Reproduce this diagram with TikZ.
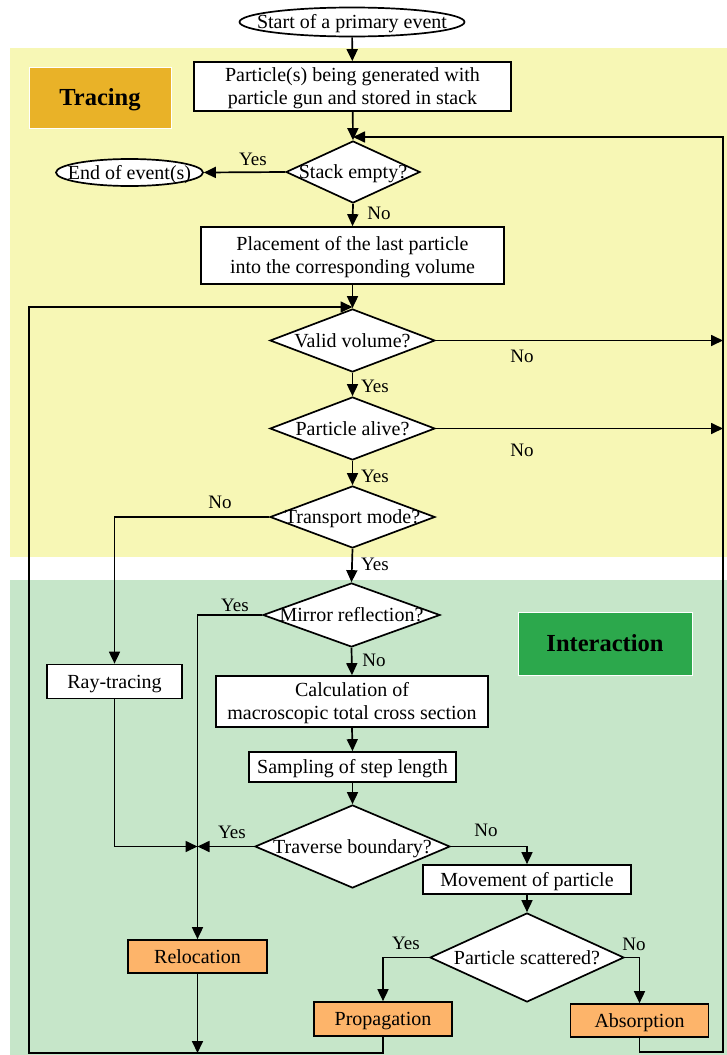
\documentclass[tikz,border=0pt]{standalone}
\usepackage{fontspec}
\setmainfont{Liberation Serif}
\usetikzlibrary{arrows.meta,shapes.geometric}
\definecolor{ybg}{RGB}{247,247,181}
\definecolor{gbg}{RGB}{198,230,201}
\definecolor{trc}{RGB}{233,178,40}
\definecolor{itr}{RGB}{44,168,76}
\definecolor{orng}{RGB}{253,180,106}
\newcommand\zt[1]{\makebox[0pt]{#1}}
\newcommand\tl[1]{\begin{tabular}[b]{@{}c@{}}#1\end{tabular}}
\begin{document}
\begin{tikzpicture}[x=1pt,y=-1pt,
  every node/.style={font=\fontsize{20}{23}\selectfont},
  line/.style={line width=1.7pt,line join=miter},
  arr/.style={line,-{Triangle[length=12pt,width=11pt]}},
  one/.style={text height=16pt,text depth=3pt},
  two/.style={text height=39pt,text depth=3pt},
  proc/.style={rectangle,draw,line width=1.7pt,fill=white,inner sep=0pt,one},
  proc2/.style={proc,two},
  obox/.style={proc,fill=orng},
  dec/.style={diamond,draw,line width=1.7pt,fill=white,inner sep=0pt,one},
  term/.style={ellipse,draw,line width=1.7pt,fill=white,inner sep=0pt,one},
  lbl/.style={inner sep=0pt,font=\fontsize{19}{22}\selectfont},
  tag/.style={rectangle,draw=white,line width=1pt,inner sep=0pt,text height=18pt,text depth=3pt,font=\fontsize{24.5}{28}\selectfont\bfseries}]
\useasboundingbox (0,0) rectangle (727,1055);
\fill[ybg] (10,48) rectangle (727,557);
\fill[gbg] (10,580) rectangle (727,1055);
\node[tag,fill=trc,minimum width=142pt,minimum height=61pt] (tracing) at (100,97.5) {Tracing};
\node[tag,fill=itr,minimum width=174pt,minimum height=63pt] (interaction) at (605,643.5) {Interaction};

\node[term,minimum width=225pt,minimum height=29pt] (start) at (352,22) {\zt{Start of a primary event}};
\node[proc2,minimum width=317pt,minimum height=49pt] (gen) at (352.5,86.5) {\tl{Particle(s) being generated with\\particle gun and stored in stack}};
\node[dec,minimum width=134pt,minimum height=62pt] (stack) at (353,172) {\zt{Stack empty?}};
\node[term,minimum width=147pt,minimum height=27pt] (end) at (129.5,172.5) {\zt{End of event(s)}};
\node[proc2,minimum width=303pt,minimum height=57pt] (place) at (352.5,255.5) {\tl{Placement of the last particle\\into the corresponding volume}};
\node[dec,minimum width=165pt,minimum height=63pt] (valid) at (352.5,340.5) {\zt{Valid volume?}};
\node[dec,minimum width=165pt,minimum height=63pt] (alive) at (352.5,428.5) {\zt{Particle alive?}};
\node[dec,minimum width=165pt,minimum height=62pt] (trans) at (352.5,517) {\zt{Transport mode?}};
\node[dec,minimum width=177pt,minimum height=64pt] (mirror) at (351.5,615) {\zt{Mirror reflection?}};
\node[proc,minimum width=135pt,minimum height=34pt] (ray) at (114.5,681.5) {Ray-tracing};
\node[proc2,minimum width=272pt,minimum height=51pt] (calc) at (352,701.5) {\tl{Calculation of\\macroscopic total cross section}};
\node[proc,minimum width=207pt,minimum height=30pt] (samp) at (352.5,767) {Sampling of step length};
\node[dec,minimum width=195pt,minimum height=83pt] (trav) at (352.5,846.5) {\zt{Traverse boundary?}};
\node[proc,minimum width=208pt,minimum height=29pt] (move) at (527,879.5) {Movement of particle};
\node[dec,minimum width=194pt,minimum height=89pt] (scat) at (527,957.5) {\zt{Particle scattered?}};
\node[obox,minimum width=139pt,minimum height=33pt] (reloc) at (197.5,956.5) {Relocation};
\node[obox,minimum width=138pt,minimum height=34pt] (prop) at (383,1019) {Propagation};
\node[obox,minimum width=138pt,minimum height=33pt] (abs) at (639.5,1020.5) {Absorption};

\coordinate (rtop) at (723,137);
\coordinate (rbot) at (723,1052);
\coordinate (lbot) at (29,1053);
\coordinate (ltop) at (29,307);

\draw[arr] (start) -- (gen);
\draw[arr] (gen) -- (stack.north);
\draw[arr] (stack.west) -- (end.east);
\draw[arr] (stack.south) -- (place.north);
\draw[arr] (place.south) -- (valid.north);
\draw[arr] (valid.east) -- (valid.east -| rtop);
\draw[arr] (valid.south) -- (alive.north);
\draw[arr] (alive.east) -- (alive.east -| rtop);
\draw[arr] (alive.south) -- (trans.north);
\draw[arr] (trans.west) -| (ray.north);
\draw[arr] (trans.south) -- (mirror.north);
\draw[arr] (mirror.west) -| (reloc.north);
\draw[arr] (mirror.south) -- (calc.north);
\draw[arr] (calc.south) -- (samp.north);
\draw[arr] (samp.south) -- (trav.north);
\draw[arr] (trav.west) -- (trav.west -| reloc.north);
\draw[arr] (ray.south) |- (trav.west -| reloc.north);
\draw[arr] (trav.east) -| (move.north);
\draw[arr] (move.south) -- (scat.north);
\draw[arr] (scat.west) -| (prop.north);
\draw[arr] (scat.east) -| (abs.north);
\draw[arr] (reloc.south) -- (reloc.south |- lbot);
\draw[arr] (prop.south) |- (lbot) -- (ltop) -- (ltop -| valid.north);
\draw[arr] (abs.south) |- (rbot) -- (rtop) -- (rtop -| stack.north);

\node[lbl] (l1) at (253,159) {Yes};
\node[lbl] (l2) at (379,213) {No};
\node[lbl] (l3) at (522,356) {No};
\node[lbl] (l4) at (375,386) {Yes};
\node[lbl] (l5) at (522,450) {No};
\node[lbl] (l6) at (375,476) {Yes};
\node[lbl] (l7) at (220,502) {No};
\node[lbl] (l8) at (375,564) {Yes};
\node[lbl] (l9) at (235,605) {Yes};
\node[lbl] (l10) at (374,660) {No};
\node[lbl] (l11) at (232,832) {Yes};
\node[lbl] (l12) at (486,830) {No};
\node[lbl] (l13) at (406,943) {Yes};
\node[lbl] (l14) at (634,944) {No};
\end{tikzpicture}
\end{document}
